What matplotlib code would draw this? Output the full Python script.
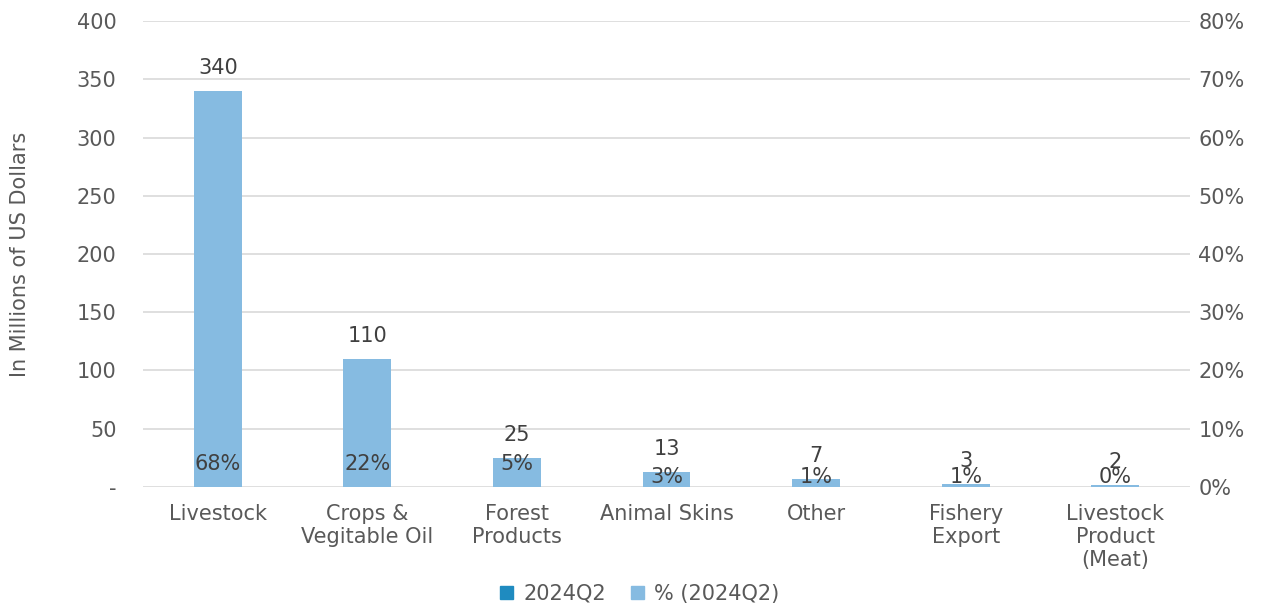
import numpy as np
import matplotlib.pyplot as plt
from matplotlib.ticker import FuncFormatter, MultipleLocator
from matplotlib.patches import Patch

plt.rcParams['font.family'] = ['DejaVu Sans']

categories = ["Livestock", "Crops &\nVegitable Oil", "Forest\nProducts", "Animal Skins",
              "Other", "Fishery\nExport", "Livestock\nProduct\n(Meat)"]
values = [340, 110, 25, 13, 7, 3, 2]           # 2024Q2, millions USD
shares = [68, 22, 5, 2.6, 1.4, 0.6, 0.4]        # % of 2024Q2 total

dark = "#1f8bc0"
light = "#86bbe1"
txt = "#404040"
tick_col = "#595959"
grid_col = "#d9d9d9"
fs = 15

fig = plt.figure(figsize=(12.62, 6.07), dpi=100)
ax = fig.add_axes([0.1133, 0.1977, 0.8297, 0.7677])
ax2 = ax.twinx()

x = np.arange(len(categories))
w = 0.32

ax.bar(x, values, w, color=dark, zorder=2)
ax2.bar(x, shares, w, color=light, zorder=3)

ax.set_ylim(0, 400)
ax2.set_ylim(0, 80)
ax.set_xlim(-0.5, len(categories) - 0.5)
ax.yaxis.set_major_locator(MultipleLocator(50))
ax2.yaxis.set_major_locator(MultipleLocator(10))
ax.yaxis.set_major_formatter(FuncFormatter(lambda v, p: "-" if v == 0 else "%d" % v))
ax2.yaxis.set_major_formatter(FuncFormatter(lambda v, p: "%d%%" % v))

ax.grid(axis="y", color=grid_col, lw=1.2, zorder=0)
ax.set_axisbelow(True)
for a in (ax, ax2):
    for s in a.spines.values():
        s.set_visible(False)
    a.tick_params(length=0, labelsize=fs, colors=tick_col)
ax.tick_params(axis="y", pad=19)
ax2.tick_params(axis="y", pad=6)
ax.set_xticks(x)
ax.set_xticklabels(categories, fontsize=fs, color=tick_col, linespacing=1.2)
ax.tick_params(axis="x", pad=12)

ax.set_ylabel("In Millions of US Dollars", fontsize=fs, color=tick_col, labelpad=34)

# value labels above each bar
for xi, v in zip(x, values):
    ax.annotate("%d" % v, (xi, v), xytext=(0, 9), textcoords="offset points",
                ha="center", va="bottom", fontsize=fs, color=txt, zorder=5)

# share labels at the base inside each bar
for xi, s in zip(x, shares):
    off = 9 if s >= 5 else 0
    ax2.annotate("%.0f%%" % s, (xi, 0), xytext=(0, off), textcoords="offset points",
                 ha="center", va="bottom", fontsize=fs, color=txt, zorder=5)

handles = [Patch(color=dark, label="2024Q2"), Patch(color=light, label="% (2024Q2)")]
fig.legend(handles=handles, loc="center", bbox_to_anchor=(0.507, 0.022), ncol=2,
           frameon=False, fontsize=fs, handlelength=0.6, handleheight=0.6,
           handletextpad=0.5, columnspacing=1.2, labelcolor=tick_col)

fig.savefig("out.png", dpi=100)
